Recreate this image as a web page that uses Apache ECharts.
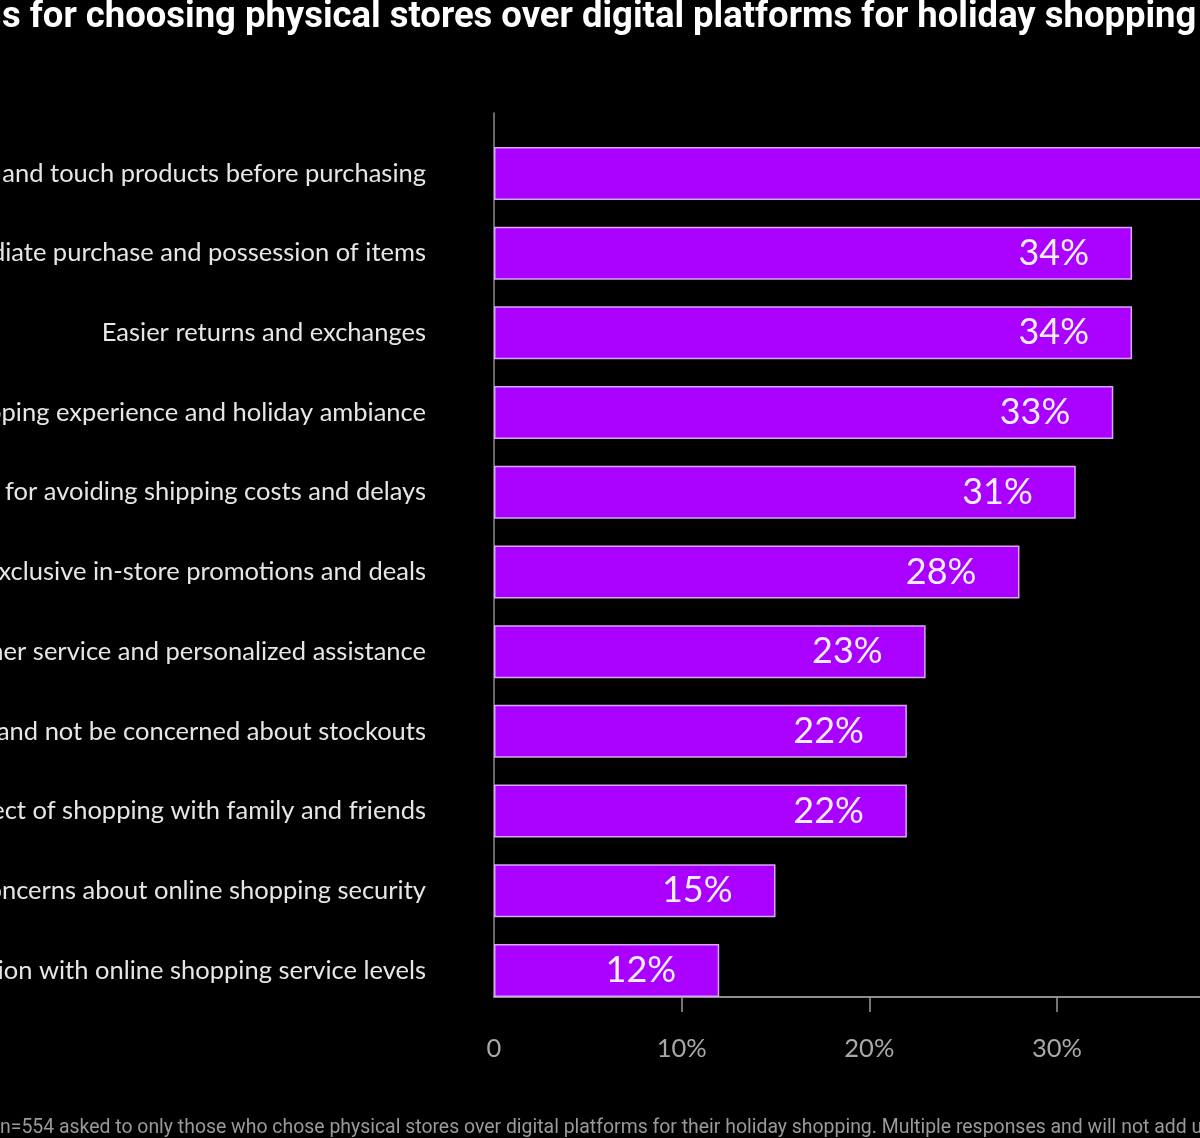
<!DOCTYPE html>
<html>
<head>
<meta charset="utf-8">
<script src="https://cdn.jsdelivr.net/npm/echarts@6/dist/echarts.min.js"></script>
<style>
  html, body { margin: 0; padding: 0; background: #000; overflow: hidden; width: 1200px; height: 1138px; }
  #chart { position: absolute; left: -400px; top: 0; width: 1900px; height: 1138px; }
</style>
</head>
<body>
<div id="chart"></div>
<script>
// ---- data ----
const titleText = "Reasons for choosing physical stores over digital platforms for holiday shopping";
const titleHidden = "Reason";
const footText = "Base: n=554 asked to only those who chose physical stores over digital platforms for their holiday shopping. Multiple responses and will not add up to 100%.";
const footHidden = "Base: ";
const categories = [
  "Ability to see and touch products before purchasing",
  "Immediate purchase and possession of items",
  "Easier returns and exchanges",
  "In-store shopping experience and holiday ambiance",
  "Preference for avoiding shipping costs and delays",
  "Access to exclusive in-store promotions and deals",
  "Better customer service and personalized assistance",
  "Ensure product availability and not be concerned about stockouts",
  "Social aspect of shopping with family and friends",
  "Concerns about online shopping security",
  "Dissatisfaction with online shopping service levels"
];
const values = [45, 34, 34, 33, 31, 28, 23, 22, 22, 15, 12];
const tickValues = [10, 20, 30, 40, 50];

// ---- layout helpers ----
const OFFSET = 400; // container shifted left by this amount
const TITLE_FONT = 'Roboto, "Liberation Sans", sans-serif';
const FOOT_FONT = 'Roboto, "Liberation Sans", sans-serif';
const BODY_FONT = 'Lato, "Noto Sans", sans-serif';
const ctx = document.createElement('canvas').getContext('2d');
function measure(text, font) { ctx.font = font; return ctx.measureText(text).width; }

// fit the title so the visible part spans the same width as in the reference
const titleVisible = titleText.slice(titleHidden.length);
const titleSize = 34 * 1195 / measure(titleVisible, 'bold 34px ' + TITLE_FONT);
const titleLeft = OFFSET + 2 - measure(titleHidden, 'bold ' + titleSize + 'px ' + TITLE_FONT);

const footVisible = "n=554 asked to only those who chose physical stores over digital platforms for their holiday shopping. Multiple responses and will not add u";
const footSize = 20 * 1203 / measure(footVisible, '20px ' + FOOT_FONT);
const footLeft = OFFSET + 0 - measure(footHidden, footSize + 'px ' + FOOT_FONT);

const gridLeft = OFFSET + 494;
const pxPerUnit = (1057 - 494) / 30;
const axisMax = 50;
const gridWidth = pxPerUnit * axisMax;

const chart = echarts.init(document.getElementById('chart'), null, { renderer: 'canvas' });
chart.setOption({
  backgroundColor: '#000',
  animation: false,
  title: [
    {
      text: titleText, left: titleLeft, top: 0, padding: 0,
      textStyle: { color: '#ffffff', fontSize: titleSize, fontWeight: 'bold', fontFamily: TITLE_FONT }
    },
    {
      text: footText, left: footLeft, top: 1119, padding: 0,
      textStyle: { color: '#9a9a9a', fontSize: footSize, fontWeight: 'normal', fontFamily: FOOT_FONT }
    }
  ],
  grid: [
    { left: gridLeft, top: 133.6, height: 876.7, width: gridWidth, outerBoundsMode: 'none', containLabel: false },
    { left: gridLeft, top: 113, height: 884, width: gridWidth, outerBoundsMode: 'none', containLabel: false }
  ],
  xAxis: [
    {
      gridIndex: 0, type: 'value', min: 0, max: axisMax, interval: 10, offset: -13.3,
      axisLine: { show: true, lineStyle: { color: '#bdbdbd', width: 1.5 } },
      axisTick: { show: true, length: 15, customValues: tickValues, lineStyle: { color: '#9a9a9a', width: 1.5 } },
      splitLine: { show: false },
      axisLabel: {
        color: '#a8a8a8', fontSize: 25.5, fontFamily: BODY_FONT, margin: 39,
        formatter: v => v === 0 ? '0' : v + '%'
      }
    },
    { gridIndex: 1, type: 'value', show: false, min: 0, max: axisMax }
  ],
  yAxis: [
    {
      gridIndex: 0, type: 'category', data: categories, inverse: true,
      axisLine: { show: false }, axisTick: { show: false },
      axisLabel: { color: '#e6e6e6', fontSize: 25.5, fontFamily: BODY_FONT, margin: 68 }
    },
    {
      gridIndex: 1, type: 'value', min: 0, max: 1,
      axisLine: { show: true, lineStyle: { color: '#8a8a8a', width: 1.5 } },
      axisTick: { show: false }, axisLabel: { show: false }, splitLine: { show: false }
    }
  ],
  series: [{
    type: 'bar',
    xAxisIndex: 0, yAxisIndex: 0,
    data: values,
    barWidth: 53,
    itemStyle: { color: '#a900ff', borderColor: '#d9a8f2', borderWidth: 1.5 },
    label: {
      show: true, position: 'insideRight', distance: 43,
      formatter: '{c}%', color: '#f7efff', fontSize: 36, fontFamily: BODY_FONT
    }
  }]
});
</script>
</body>
</html>
